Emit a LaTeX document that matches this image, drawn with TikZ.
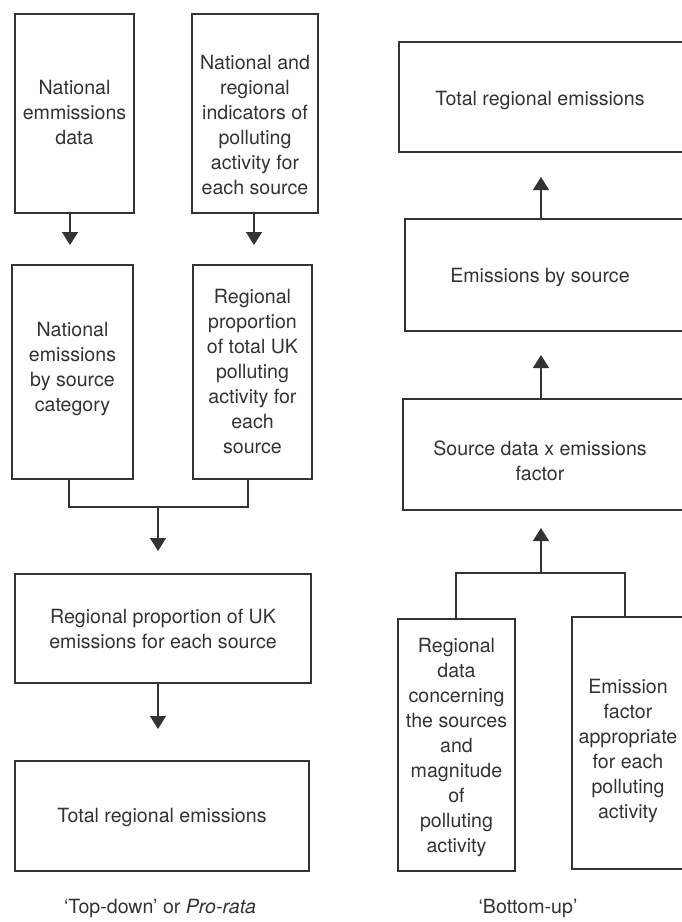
\documentclass[tikz,border=0pt]{standalone}
\usepackage{fontspec}
\setmainfont{TeX Gyre Heros}
\usetikzlibrary{arrows.meta,calc}
\definecolor{ink}{HTML}{333333}
\begin{document}
\begin{tikzpicture}[x=1pt,y=-1pt,
  box/.style={draw=ink,line width=1.2pt,rectangle,inner sep=0pt},
  txt/.style={text=ink,align=center,font=\fontsize{19.6}{25}\selectfont,inner sep=0pt},
  arr/.style={draw=ink,line width=1.2pt,-{Triangle[width=16pt,length=13pt]}},
  ln/.style={draw=ink,line width=1.2pt}]
\useasboundingbox (0,0) rectangle (682,922);
\clip (0,0) rectangle (682,922);
% left column
\node[box,minimum width=119pt,minimum height=199pt] (A) at (74.5,113.5) {};
\node[box,minimum width=126pt,minimum height=199pt] (B) at (255,113.5) {};
\node[box,minimum width=121pt,minimum height=214pt] (C) at (72.5,372) {};
\node[box,minimum width=119pt,minimum height=214pt] (D) at (252.5,372) {};
\node[box,minimum width=296pt,minimum height=109pt] (E) at (163,628.5) {};
\node[box,minimum width=294pt,minimum height=110pt] (F) at (162,816) {};
% right column
\node[box,minimum width=291pt,minimum height=110pt] (G) at (544.5,97) {};
\node[box,minimum width=285pt,minimum height=112pt] (H) at (547.5,275) {};
\node[box,minimum width=287pt,minimum height=111pt] (I) at (546.5,454.5) {};
\node[box,minimum width=117pt,minimum height=252pt] (J) at (456.5,745) {};
\node[box,minimum width=118pt,minimum height=252pt] (K) at (631,743) {};
% texts
\node[txt] (tA) at (74.5,112) {National\\emmissions\\data};
\node[txt] (tB) at (255,124.5) {National and\\regional\\indicators of\\polluting\\activity for\\each source};
\node[txt] (tC) at (72.5,369) {National\\emissions\\by source\\category};
\node[txt] (tD) at (252.5,371) {Regional\\proportion\\of total UK\\polluting\\activity for\\each\\source};
\node[txt] (tE) at (163,628.5) {Regional proportion of UK\\emissions for each source};
\node[txt] (tF) at (162,817) {Total regional emissions};
\node[txt] (tG) at (540,100) {Total regional emissions};
\node[txt] (tH) at (540,277) {Emissions by source};
\node[txt] (tI) at (540,461) {Source data x emissions\\factor};
\node[txt] (tJ) at (456.5,747) {Regional\\data\\concerning\\the sources\\and\\magnitude\\of\\polluting\\activity};
\node[txt] (tK) at (628,750.5) {Emission\\factor\\appropriate\\for each\\polluting\\activity};
% captions
\node[txt] (capL) at (160,908) {‘Top-down’ or \textit{Pro-rata}};
\node[txt] (capR) at (528,908) {‘Bottom-up’};
% connector points
\coordinate (pA) at (70,245);
\coordinate (pB) at (254,245);
\coordinate (jL) at (158,507);
\coordinate (pE) at (158,551);
\coordinate (pF) at (158,729);
\coordinate (pG) at (541,177);
\coordinate (pH) at (541,355);
\coordinate (jR) at (541,573);
\coordinate (pI) at (541,528);
% left connectors
\draw[arr] (A.south -| pA) -- (pA);
\draw[arr] (B.south -| pB) -- (pB);
\draw[ln] (C.south -| 69,0) |- (jL) -| (D.south -| 248,0);
\draw[arr] (jL) -- (pE);
\draw[arr] (E.south -| pF) -- (pF);
% right connectors
\draw[arr] (H.north -| pG) -- (pG);
\draw[arr] (I.north -| pH) -- (pH);
\draw[ln] (J.north -| 456,0) |- (jR) -| (K.north -| 625,0);
\draw[arr] (jR) -- (pI);
\end{tikzpicture}
\end{document}
